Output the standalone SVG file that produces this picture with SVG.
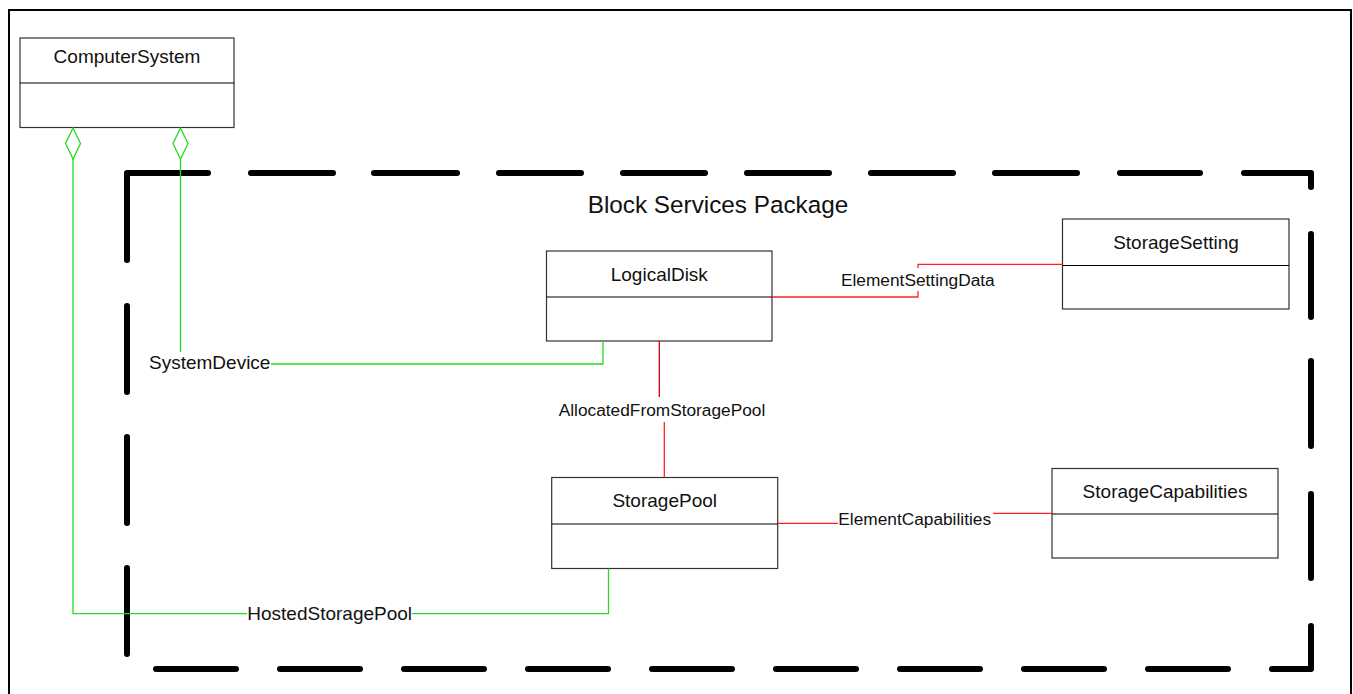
<svg xmlns="http://www.w3.org/2000/svg" width="1353" height="694" viewBox="0 0 1353 694">
  <style>
    .frame { fill: none; stroke: #000; stroke-width: 2; }
    .pkg { fill: none; stroke: #000; stroke-width: 6; stroke-linecap: round; stroke-linejoin: round; }
    .box { fill: #fff; stroke: #333; stroke-width: 1.2; }
    .div { stroke: #000; stroke-width: 1.2; }
    .cls { font-family: "Liberation Sans", Arial, sans-serif; font-size: 19px; fill: #111; text-anchor: middle; }
    .lbl { font-family: "Liberation Sans", Arial, sans-serif; font-size: 19px; fill: #111; }
    .lbl2 { font-family: "Liberation Sans", Arial, sans-serif; font-size: 17.3px; fill: #111; }
    .green { fill: none; stroke: #22dd22; stroke-width: 1.3; }
    .red { fill: none; stroke: #ff2222; stroke-width: 1.3; }
    .dred { fill: none; stroke: #cc0000; stroke-width: 1.3; }
    .bg { fill: #fff; }
  </style>

  <rect class="frame" x="9" y="10" width="1342" height="692"/>

  <!-- Package boundary -->
  <g id="package">
    <path class="pkg" d="M127 260 L127 173 L208 173"/>
    <path class="pkg" d="M251 173 H333 M374 173 H457 M499 173 H581 M623 173 H705 M747 173 H829 M871 173 H953 M995 173 H1077 M1120 173 H1200"/>
    <path class="pkg" d="M1244 173 L1311 173 L1311 187"/>
    <path class="pkg" d="M1311 234 V317 M1311 361 V446 M1311 494 V578"/>
    <path class="pkg" d="M1311 626 L1311 669 L1272 669"/>
    <path class="pkg" d="M1148 669 H1228 M1024 669 H1104 M900 669 H980 M776 669 H856 M652 669 H732 M528 669 H608 M404 669 H484 M280 669 H360 M156 669 H236"/>
    <path class="pkg" d="M127 306 V392 M127 437 V523 M127 568 V654"/>
    <text x="718" y="213" font-family="Liberation Sans, Arial, sans-serif" font-size="24.3" fill="#111" text-anchor="middle">Block Services Package</text>
  </g>

  <!-- Nodes -->
  <g id="ComputerSystem">
    <rect class="box" x="20" y="38" width="214" height="89.5"/>
    <line class="div" x1="20" y1="83" x2="234" y2="83"/>
    <text class="cls" x="127" y="63">ComputerSystem</text>
  </g>

  <g id="LogicalDisk">
    <rect class="box" x="546.5" y="251" width="225.5" height="90"/>
    <line class="div" x1="546.5" y1="297" x2="772" y2="297"/>
    <text class="cls" x="659.3" y="281">LogicalDisk</text>
  </g>

  <g id="StorageSetting">
    <rect class="box" x="1062.5" y="219" width="226.5" height="90"/>
    <line class="div" x1="1062.5" y1="265.5" x2="1289" y2="265.5"/>
    <text class="cls" x="1176" y="249">StorageSetting</text>
  </g>

  <g id="StoragePool">
    <rect class="box" x="551.7" y="477.5" width="226" height="91"/>
    <line class="div" x1="551.7" y1="524" x2="777.7" y2="524"/>
    <text class="cls" x="664.7" y="507">StoragePool</text>
  </g>

  <g id="StorageCapabilities">
    <rect class="box" x="1052" y="468.5" width="226" height="89.5"/>
    <line class="div" x1="1052" y1="514" x2="1278" y2="514"/>
    <text class="cls" x="1165" y="498">StorageCapabilities</text>
  </g>

  <!-- Connectors -->
  <g id="connectors">
    <!-- SystemDevice (aggregation) -->
    <path class="green" d="M180.5 128 L188 143.5 L180.5 159 L173 143.5 Z" fill="#fff"/>
    <path class="green" d="M180.5 159 V352"/>
    <path class="green" d="M271 364 H603 V341"/>
    <text class="lbl" x="149" y="369">SystemDevice</text>

    <!-- HostedStoragePool (aggregation) -->
    <path class="green" d="M73 128 L80.5 143.5 L73 159 L65.5 143.5 Z" fill="#fff"/>
    <path class="green" d="M73 159 V613.7 H247"/>
    <path class="green" d="M412 613.7 H608.5 V568.5"/>
    <text class="lbl" x="247.3" y="620">HostedStoragePool</text>

    <!-- ElementSettingData -->
    <path class="red" d="M772 297 H918 V264.3 H1062.5"/>
    <rect class="bg" x="840" y="268" width="156" height="23"/>
    <text class="lbl2" x="841" y="286">ElementSettingData</text>

    <!-- AllocatedFromStoragePool -->
    <path class="dred" d="M659.3 341 V397"/>
    <path class="red" d="M664.3 422 V477.5"/>
    <text class="lbl2" x="662" y="416" text-anchor="middle">AllocatedFromStoragePool</text>

    <!-- ElementCapabilities -->
    <path class="red" d="M777.7 523.3 H838"/>
    <path class="red" d="M993 513.3 H1052"/>
    <text class="lbl2" x="838.3" y="525">ElementCapabilities</text>
  </g>
</svg>
